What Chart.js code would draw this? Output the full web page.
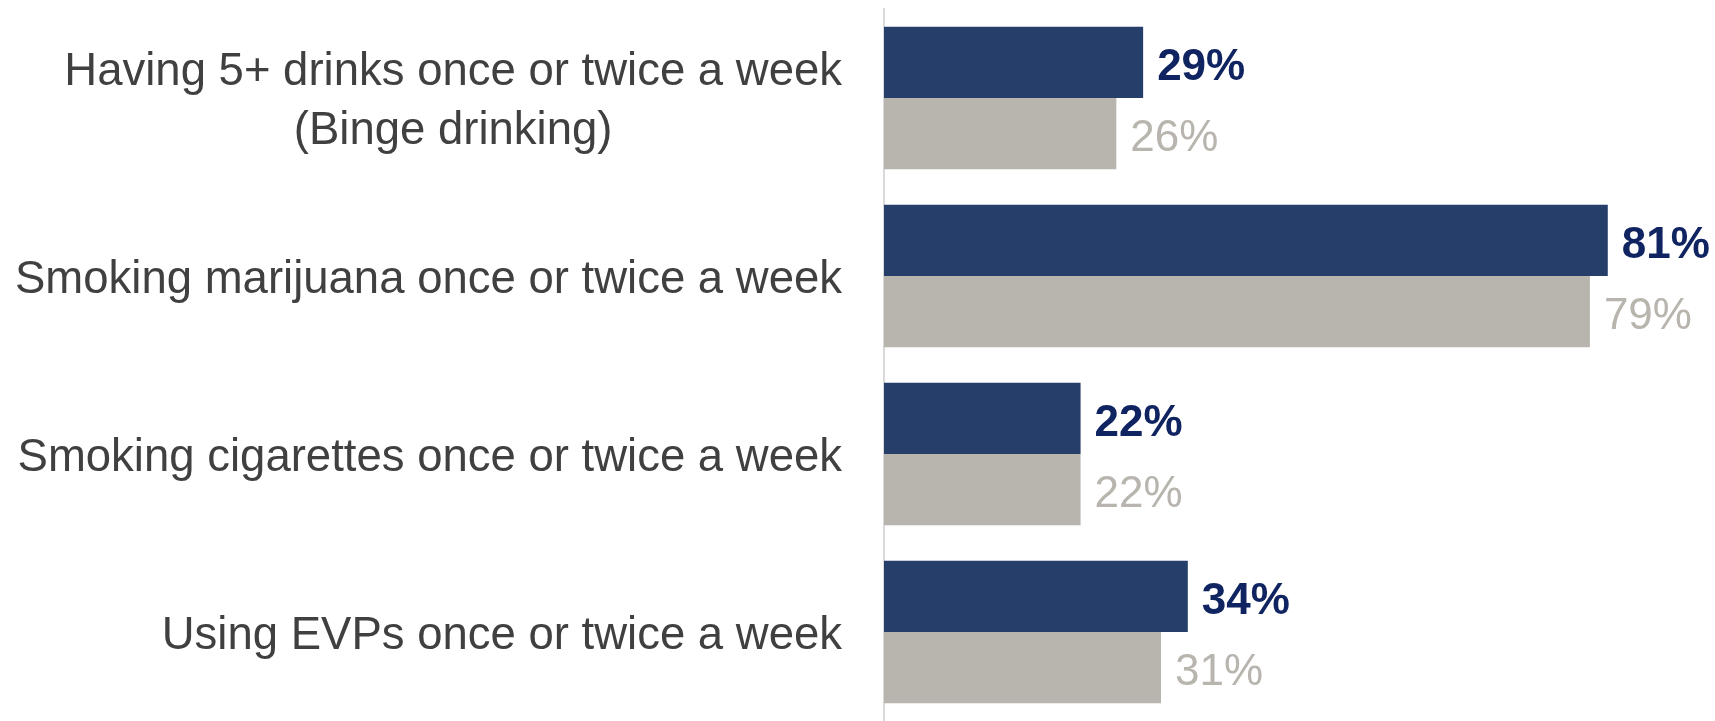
<!DOCTYPE html>
<html>
<head>
<meta charset="utf-8">
<script src="https://cdn.jsdelivr.net/npm/chart.js@4"></script>
<style>
  html, body { margin: 0; padding: 0; background: #fff; }
  #wrap { width: 1715px; height: 721px; position: relative; }
</style>
</head>
<body>
<div id="wrap"><canvas id="behaviourChart"></canvas></div>
<script>
const categories = [
    ['Having 5+ drinks once or twice a week', '(Binge drinking)'],
    ['Smoking marijuana once or twice a week'],
    ['Smoking cigarettes once or twice a week'],
    ['Using EVPs once or twice a week']
];
const blueValues = [29, 81, 22, 34];
const grayValues = [26, 79, 22, 31];

const blueBar = '#263e6a';
const grayBar = '#b8b4ae';
const blueText = '#0f2461';
const grayText = '#b8b4ae';

// category labels drawn left of the axis, lines centred within each block
const categoryLabels = {
    id: 'categoryLabels',
    afterDraw(chart) {
        const ctx = chart.ctx;
        const yScale = chart.scales.y;
        const right = chart.chartArea.left - 42;
        ctx.save();
        ctx.font = '45.5px "Liberation Sans", Arial, sans-serif';
        ctx.fillStyle = '#404040';
        ctx.textBaseline = 'middle';
        ctx.textAlign = 'center';
        categories.forEach((lines, i) => {
            const y = yScale.getPixelForValue(i) + 4;
            const w = Math.max(...lines.map(l => ctx.measureText(l).width));
            const cx = right - w / 2;
            const lh = 59;
            lines.forEach((line, j) => {
                ctx.fillText(line, cx, y + (j - (lines.length - 1) / 2) * lh);
            });
        });
        ctx.restore();
    }
};

// value labels at the end of each bar
const valueLabels = {
    id: 'valueLabels',
    afterDatasetsDraw(chart) {
        const ctx = chart.ctx;
        ctx.save();
        ctx.textBaseline = 'middle';
        ctx.textAlign = 'left';
        chart.data.datasets.forEach((ds, di) => {
            const meta = chart.getDatasetMeta(di);
            ctx.font = (di === 0 ? 'bold ' : '') + '44px "Liberation Sans", Arial, sans-serif';
            ctx.fillStyle = di === 0 ? blueText : grayText;
            meta.data.forEach((bar, i) => {
                ctx.fillText(ds.data[i] + '%', bar.x + 14, bar.y + 5);
            });
        });
        ctx.restore();
    }
};

const ctx = document.getElementById('behaviourChart').getContext('2d');
const behaviourChart = new Chart(ctx, {
    type: 'bar',
    data: {
        labels: categories,
        datasets: [{
            label: 'Blue',
            data: blueValues,
            backgroundColor: blueBar,
            borderWidth: 0,
            categoryPercentage: 0.8,
            barPercentage: 1.0
        }, {
            label: 'Gray',
            data: grayValues,
            backgroundColor: grayBar,
            borderWidth: 0,
            categoryPercentage: 0.8,
            barPercentage: 1.0
        }]
    },
    options: {
        indexAxis: 'y',
        responsive: true,
        maintainAspectRatio: false,
        animation: false,
        layout: {
            padding: { left: 884, top: 9, right: 0, bottom: 0 }
        },
        plugins: {
            legend: { display: false },
            tooltip: { enabled: false }
        },
        scales: {
            x: {
                display: false,
                min: 0,
                max: 93
            },
            y: {
                display: true,
                ticks: { display: false },
                grid: { display: false, drawTicks: false },
                border: { display: true, color: '#d9d9d9', width: 2 }
            }
        }
    },
    plugins: [categoryLabels, valueLabels]
});
</script>
</body>
</html>
